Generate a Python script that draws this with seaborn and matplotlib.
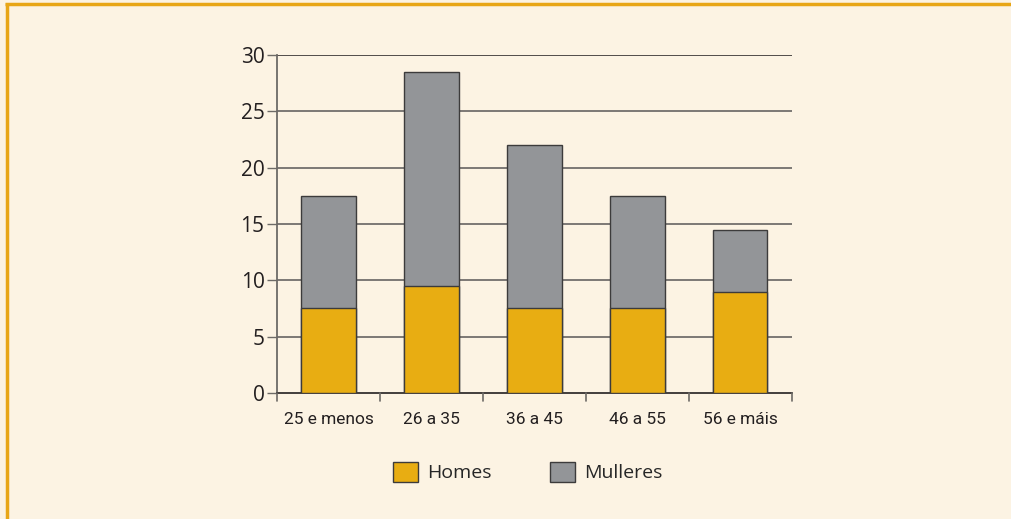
import pandas as pd
import matplotlib
matplotlib.use("Agg")
import matplotlib.pyplot as plt
from matplotlib.patches import Patch
from matplotlib.lines import Line2D
import seaborn as sns

# datos
idades = ["25 e menos", "26 a 35", "36 a 45", "46 a 55", "56 e máis"]
homes = [7.5, 9.5, 7.5, 7.5, 9.0]
mulleres = [10.0, 19.0, 14.5, 10.0, 5.5]
yticks = [0, 5, 10, 15, 20, 25, 30]

bg = "#fcf3e3"
c_homes = "#e8ad12"
c_mull = "#939598"
edge = "#3c3b3b"

sns.set_theme(style="white")
plt.rcParams["font.family"] = ["Open Sans", "DejaVu Sans"]

df = pd.DataFrame({"idade": idades, "Homes": homes, "Mulleres": mulleres})
df["total"] = df["Homes"] + df["Mulleres"]

fig = plt.figure(figsize=(10.11, 5.19), dpi=100, facecolor=bg)
ax = fig.add_axes([0.274, 0.243, 0.509, 0.651])
ax.set_facecolor(bg)

sns.barplot(ax=ax, data=df, x="idade", y="total", color=c_mull, width=0.53,
            edgecolor=edge, linewidth=1.0, saturation=1, zorder=3)
sns.barplot(ax=ax, data=df, x="idade", y="Homes", color=c_homes, width=0.53,
            edgecolor=edge, linewidth=1.0, saturation=1, zorder=4)

ax.set_xlim(-0.5, len(idades) - 0.5)
ax.set_ylim(0, 30)
ax.set_yticks(yticks)
ax.set_yticklabels([str(v) for v in yticks], fontsize=15, color="#231f20")
ax.tick_params(axis="y", direction="out", length=7, width=1, color="#6d6a66", pad=2, left=True)

# gridlines
for v in yticks[1:]:
    ax.axhline(v, color="#5a5757" if v < 30 else "#231f20", lw=1.1, zorder=1)

# category labels; separators drawn as ticks below the axis
ax.set_xticks([i for i in range(len(idades))])
ax.set_xticklabels(idades, fontsize=12.5, color="#231f20", family=["Roboto", "DejaVu Sans"])
ax.tick_params(axis="x", length=0, pad=14)
for b in [i - 0.5 for i in range(len(idades) + 1)]:
    ax.plot([b, b], [0, -0.024], transform=ax.get_xaxis_transform(), color="#6d6a66",
            lw=1.2, clip_on=False, zorder=5)

for s in ["top", "right"]:
    ax.spines[s].set_visible(False)
ax.spines["left"].set_color("#6d6a66")
ax.spines["left"].set_linewidth(1.3)
ax.spines["bottom"].set_color("#231f20")
ax.spines["bottom"].set_linewidth(1.2)
ax.set_xlabel("")
ax.set_ylabel("")

handles = [Patch(facecolor=c_homes, edgecolor=edge, linewidth=1.0),
           Patch(facecolor=c_mull, edgecolor=edge, linewidth=1.0)]
fig.legend(handles=handles, labels=["Homes", "Mulleres"], loc="center",
           bbox_to_anchor=(528 / 1011, 1 - 472 / 519), ncol=2, frameon=False,
           handlelength=1.25, handleheight=1.25, handletextpad=0.5,
           columnspacing=3.0, prop={"family": ["Open Sans", "DejaVu Sans"], "size": 14})

# orange frame lines (top and left)
fig.add_artist(Line2D([5 / 1011, 1], [1 - 4 / 519, 1 - 4 / 519], color="#e8a617", lw=2.5,
                      solid_capstyle="butt", transform=fig.transFigure))
fig.add_artist(Line2D([6.5 / 1011, 6.5 / 1011], [0, 1 - 3 / 519], color="#e8a617", lw=2.5,
                      solid_capstyle="butt", transform=fig.transFigure))

fig.savefig("out.png", dpi=100, facecolor=bg)
